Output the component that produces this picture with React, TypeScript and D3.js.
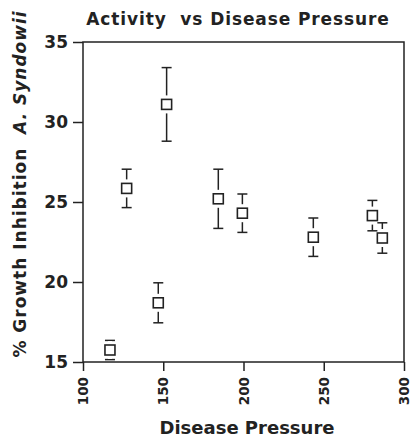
import React, { useEffect, useRef } from 'react';
import * as d3 from 'd3';

// disease pressure (x), growth inhibition mean (y), error half-width
const pressure = [116.8, 127.2, 152.1, 146.9, 184.3, 199.3, 243.5, 280.3, 286.5];
const inhibition = [15.75, 25.85, 31.1, 18.7, 25.2, 24.3, 22.8, 24.15, 22.75];
const errors = [0.6, 1.2, 2.3, 1.25, 1.85, 1.2, 1.2, 0.95, 0.95];

const xTicks = [100, 150, 200, 250, 300];
const yTicks = [15, 20, 25, 30, 35];

const FONT = '"DejaVu Sans", sans-serif';
const INK = '#222';

const App = () => {
    const svgRef = useRef<SVGSVGElement>(null);

    useEffect(() => {
        const svg = d3.select(svgRef.current);
        svg.selectAll('*').remove();

        const width = 411;
        const height = 441;
        const margin = { top: 42, right: 7, bottom: 79, left: 83 };
        const w = width - margin.left - margin.right;
        const h = height - margin.top - margin.bottom;

        svg.attr('width', width).attr('height', height);

        const chart = svg.append('g')
            .attr('transform', `translate(${margin.left},${margin.top})`);

        const x = d3.scaleLinear().domain([100, 300]).range([0, w]);
        const y = d3.scaleLinear().domain([15, 35]).range([h, 0]);

        // frame
        chart.append('rect')
            .attr('width', w).attr('height', h)
            .attr('fill', 'none').attr('stroke', INK).attr('stroke-width', 1.5);

        // x axis
        const gx = chart.append('g')
            .attr('transform', `translate(0,${h})`)
            .call(d3.axisBottom(x).tickValues(xTicks).tickSize(9).tickFormat(d3.format('d')));
        gx.select('.domain').remove();
        gx.selectAll('line').attr('stroke', INK).attr('stroke-width', 1.5);
        gx.selectAll('text')
            .attr('transform', 'translate(0,15) rotate(-90)')
            .attr('text-anchor', 'end')
            .attr('x', 0).attr('y', 0).attr('dy', '0.34em')
            .style('font-family', FONT).style('font-weight', 'bold')
            .style('font-size', '13.5px').attr('fill', INK);

        // y axis
        const gy = chart.append('g')
            .call(d3.axisLeft(y).tickValues(yTicks).tickSize(10).tickFormat(d3.format('d')));
        gy.select('.domain').remove();
        gy.selectAll('line').attr('stroke', INK).attr('stroke-width', 1.5);
        gy.selectAll('text')
            .attr('x', -15)
            .style('font-family', FONT).style('font-weight', 'bold')
            .style('font-size', '17px').attr('fill', INK);

        const data = pressure.map((p, i) => ({ p, v: inhibition[i], e: errors[i] }));
        const cap = 5;
        const half = 5;

        const pts = chart.append('g')
            .selectAll('g')
            .data(data)
            .join('g')
            .attr('transform', (d) => `translate(${x(d.p)},0)`);

        // error bars
        pts.append('line')
            .attr('y1', (d) => y(d.v + d.e)).attr('y2', (d) => y(d.v - d.e))
            .attr('stroke', INK).attr('stroke-width', 1.5);
        pts.append('line')
            .attr('x1', -cap).attr('x2', cap)
            .attr('y1', (d) => y(d.v + d.e)).attr('y2', (d) => y(d.v + d.e))
            .attr('stroke', INK).attr('stroke-width', 1.5);
        pts.append('line')
            .attr('x1', -cap).attr('x2', cap)
            .attr('y1', (d) => y(d.v - d.e)).attr('y2', (d) => y(d.v - d.e))
            .attr('stroke', INK).attr('stroke-width', 1.5);

        // gap around marker
        pts.append('rect')
            .attr('x', -2).attr('width', 4)
            .attr('y', (d) => y(d.v) - half - 4).attr('height', 2 * half + 8)
            .attr('fill', 'white');

        // square markers
        pts.append('rect')
            .attr('x', -half).attr('width', 2 * half)
            .attr('y', (d) => y(d.v) - half).attr('height', 2 * half)
            .attr('fill', 'white').attr('stroke', INK).attr('stroke-width', 1.6);

        // title
        svg.append('text')
            .attr('x', 238)
            .attr('y', 25)
            .attr('text-anchor', 'middle')
            .style('white-space', 'pre')
            .style('letter-spacing', '0.9px')
            .style('font-family', FONT).style('font-weight', 'bold')
            .style('font-size', '17px').attr('fill', INK)
            .text('Activity  vs Disease Pressure');

        // x-axis label
        svg.append('text')
            .attr('x', 247)
            .attr('y', 434)
            .attr('text-anchor', 'middle')
            .style('font-family', FONT).style('font-weight', 'bold')
            .style('font-size', '18px').attr('fill', INK)
            .text('Disease Pressure');

        // y-axis label
        const yl = svg.append('text')
            .attr('transform', 'translate(26,184) rotate(-90)')
            .attr('text-anchor', 'middle')
            .style('white-space', 'pre')
            .style('letter-spacing', '1px')
            .style('font-family', FONT).style('font-weight', 'bold')
            .style('font-size', '17px').attr('fill', INK);
        yl.append('tspan').text('% Growth Inhibition  ');
        yl.append('tspan').style('font-style', 'italic').text('A. Syndowii');
    }, []);

    return <svg ref={svgRef} style={{ display: 'block', position: 'absolute', left: 0, top: 0 }} />;
};

export default App;
